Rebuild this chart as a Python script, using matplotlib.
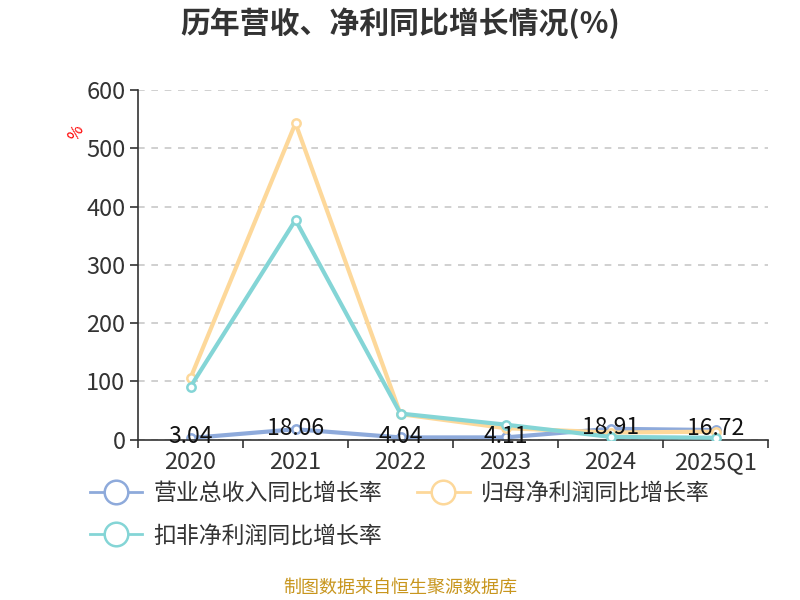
import matplotlib
matplotlib.use("Agg")
import matplotlib.pyplot as plt
from matplotlib.lines import Line2D

plt.rcParams['font.family'] = ['Noto Sans CJK SC', 'DejaVu Sans']

categories = ["2020", "2021", "2022", "2023", "2024", "2025Q1"]
revenue = [3.04, 18.06, 4.04, 4.11, 18.91, 16.72]
net_profit = [106, 543, 44, 20, 12.5, 14]
deducted = [91, 377, 45, 26, 5, 3.5]
series_names = ["营业总收入同比增长率", "归母净利润同比增长率", "扣非净利润同比增长率"]
colors = ["#8eaadb", "#fdd89a", "#84d5d6"]

fig = plt.figure(figsize=(8, 6), dpi=100)
ax = fig.add_axes([0.1725, 0.267, 0.7875, 0.583])

x = list(range(len(categories)))
for vals, c, z in [(net_profit, colors[1], 3), (deducted, colors[2], 4), (revenue, colors[0], 2)]:
    ax.plot(x, vals, color=c, lw=3, marker='o', ms=6, mfc='white', mec=c, mew=1.8, zorder=z)

for xi, v in zip(x, revenue):
    ax.text(xi, v + 2, f"{v:.2f}", ha='center', va='center', fontsize=16.5, color='#111111', zorder=6)

ax.set_xlim(-0.5, len(categories) - 0.5)
ax.set_ylim(0, 600)
ax.set_yticks([0, 100, 200, 300, 400, 500, 600])
ax.set_xticks(x)
ax.set_xticklabels(categories)
ax.set_xticks([i - 0.5 for i in range(len(categories) + 1)], minor=True)
ax.tick_params(axis='x', which='major', length=0, labelsize=17, pad=8)
ax.tick_params(axis='x', which='minor', length=6, color='#333333', width=1.2)
ax.tick_params(axis='y', labelsize=17, length=6, width=1.2, color='#333333', pad=3)
for lab in ax.get_xticklabels() + ax.get_yticklabels():
    lab.set_color('#333333')
ax.grid(axis='y', linestyle=(0, (4, 4)), color='#c8c8c8', lw=1.2)
ax.set_axisbelow(True)
for s in ['top', 'right']:
    ax.spines[s].set_visible(False)
ax.spines['left'].set_color('#333333')
ax.spines['bottom'].set_color('#333333')
ax.spines['left'].set_linewidth(1.2)
ax.spines['bottom'].set_linewidth(1.2)

fig.text(0.095, 0.778, "%", color='red', fontsize=12, rotation=60, ha='center', va='center')

fig.text(0.5, 0.962, "历年营收、净利同比增长情况(%)", ha='center', va='center',
         fontsize=21.5, fontweight='bold', color='#333333')

handles = [Line2D([0], [0], color=c, lw=2, marker='o', ms=17, mfc='white', mec=c, mew=1.8)
           for c in colors]
fig.legend(handles[:2], series_names[:2], loc='center left', bbox_to_anchor=(0.112, 0.178),
           ncol=2, frameon=False, fontsize=16.5, handlelength=2.3, columnspacing=1.5,
           handletextpad=0.5, labelcolor='#333333', borderaxespad=0, borderpad=0)
fig.legend(handles[2:], series_names[2:], loc='center left', bbox_to_anchor=(0.112, 0.107),
           frameon=False, fontsize=16.5, handlelength=2.3, handletextpad=0.5, labelcolor='#333333',
           borderaxespad=0, borderpad=0)

fig.text(0.5, 0.02, "制图数据来自恒生聚源数据库", ha='center', va='center', fontsize=13, color='#c8961e')

fig.savefig("out.png", dpi=100)
